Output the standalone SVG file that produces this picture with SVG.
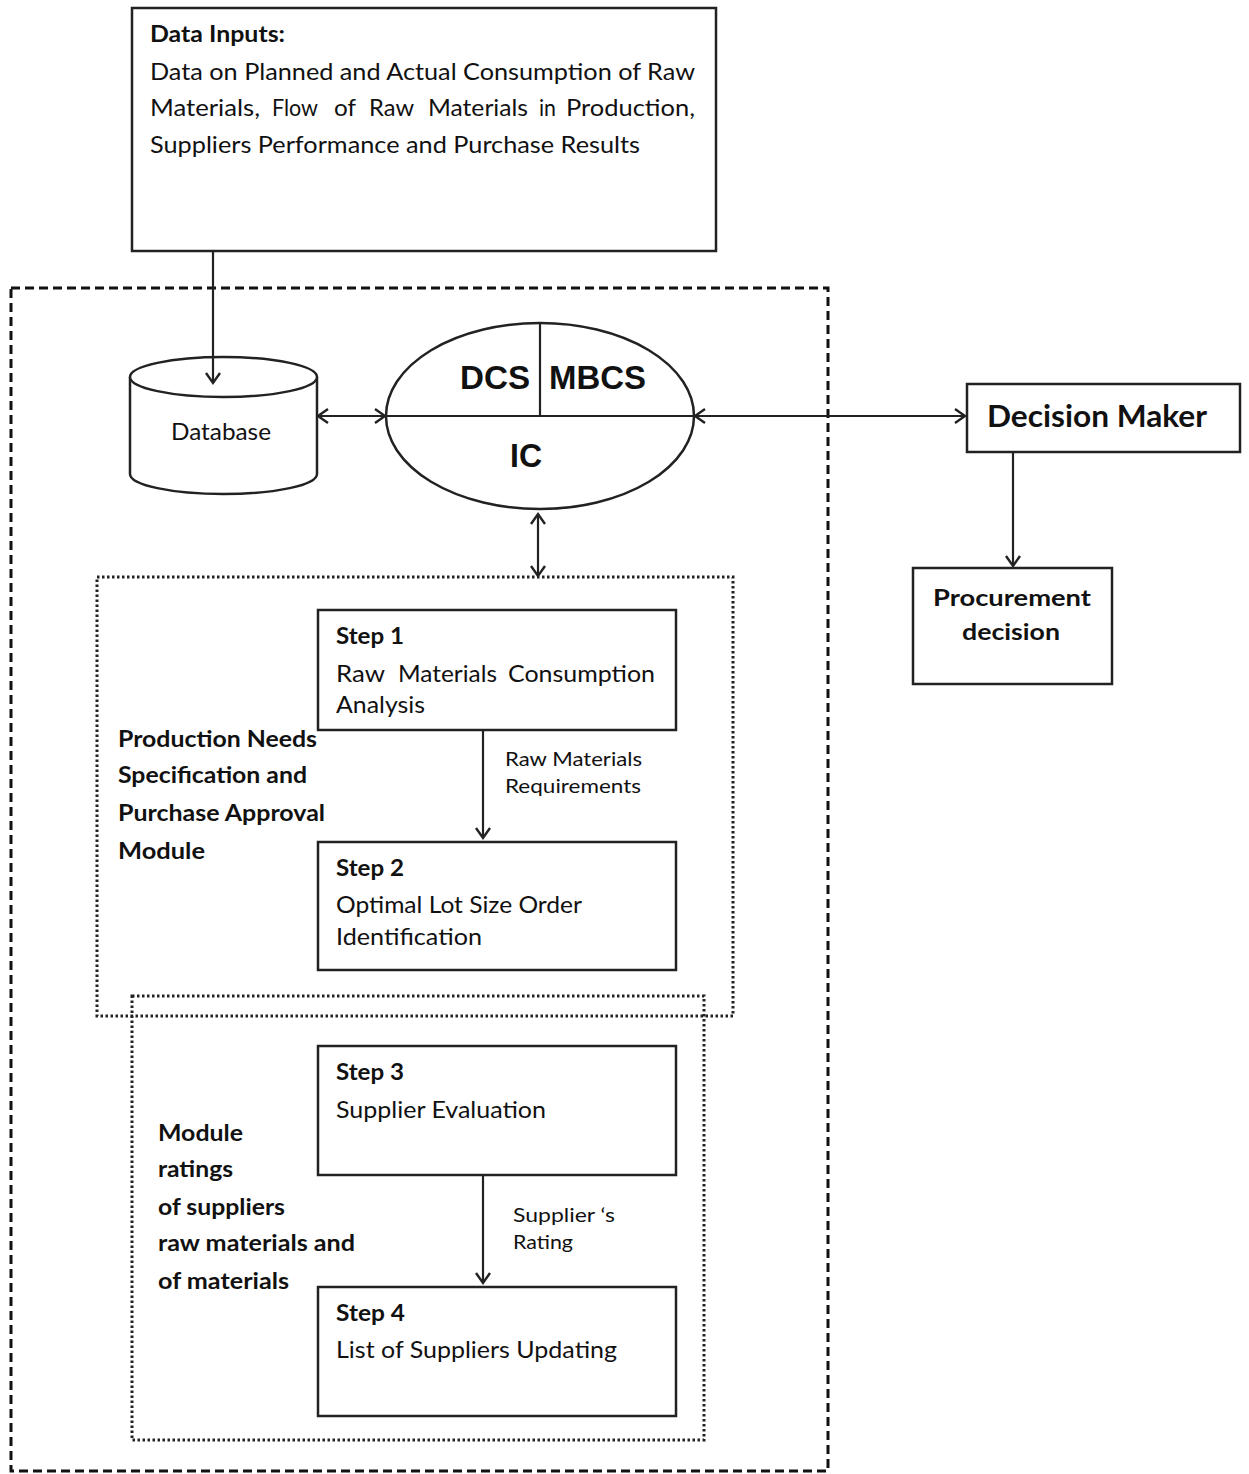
<svg xmlns="http://www.w3.org/2000/svg" width="1249" height="1474" viewBox="0 0 1249 1474">
<defs>
<marker id="arr" markerUnits="userSpaceOnUse" markerWidth="20" markerHeight="20" refX="11" refY="8" orient="auto-start-reverse" viewBox="0 0 20 16">
<path d="M1,1 L11,8 L1,15" fill="none" stroke="#222" stroke-width="2.4"/>
</marker>
</defs>
<style>
.box{fill:#fff;stroke:#222;stroke-width:2.5}
.ln{fill:none;stroke:#222;stroke-width:2.2}
.t{font-family:Lato,"Liberation Sans",sans-serif;fill:#111;font-size:23px}
.s{font-size:20px}
.b{font-weight:bold}
.a{font-family:"Liberation Sans",Arial,sans-serif;font-weight:bold;fill:#111;font-size:33px}
.dash{fill:none;stroke:#111;stroke-width:3;stroke-dasharray:9 5}
.dot{fill:none;stroke:#222;stroke-width:3;stroke-dasharray:2.5 2.5}
</style>
<rect width="1249" height="1474" fill="#fff"/>

<g id="system-boundary"><rect class="dash" x="11" y="288" width="817" height="1183"/></g>
<g id="module1-boundary"><rect class="dot" x="97" y="577" width="636" height="439"/></g>
<g id="module2-boundary"><rect class="dot" x="132" y="996" width="572" height="444"/></g>

<g id="data-inputs">
<rect class="box" x="132" y="8" width="584" height="243"/>
<text class="t b" x="150" y="42" textLength="135" lengthAdjust="spacingAndGlyphs">Data Inputs:</text>
<text class="t" x="150" y="80" textLength="545" lengthAdjust="spacingAndGlyphs">Data on Planned and Actual Consumption of Raw</text>
<text class="t" y="116" lengthAdjust="spacingAndGlyphs"><tspan x="150" textLength="110" lengthAdjust="spacingAndGlyphs">Materials,</tspan><tspan x="272" textLength="46" lengthAdjust="spacingAndGlyphs">Flow</tspan><tspan x="334" textLength="22" lengthAdjust="spacingAndGlyphs">of</tspan><tspan x="369" textLength="45" lengthAdjust="spacingAndGlyphs">Raw</tspan><tspan x="428" textLength="100" lengthAdjust="spacingAndGlyphs">Materials</tspan><tspan x="539" textLength="17" lengthAdjust="spacingAndGlyphs">in</tspan><tspan x="566" textLength="129" lengthAdjust="spacingAndGlyphs">Production,</tspan></text>
<text class="t" x="150" y="153" textLength="490" lengthAdjust="spacingAndGlyphs">Suppliers Performance and Purchase Results</text>
</g>

<g id="database">
<path class="box" d="M130,377 L130,474 A93.5,20 0 0 0 317,474 L317,377"/>
<ellipse class="box" cx="223.5" cy="377" rx="93.5" ry="20"/>
<text class="t" x="171" y="440" textLength="100" lengthAdjust="spacingAndGlyphs">Database</text>
</g>

<g id="controller">
<ellipse class="box" cx="540" cy="416" rx="154" ry="93"/>
<line class="ln" x1="386" y1="416" x2="694" y2="416"/>
<line class="ln" x1="540" y1="323" x2="540" y2="416"/>
<text class="a" x="460" y="389" textLength="70" lengthAdjust="spacingAndGlyphs">DCS</text>
<text class="a" x="549" y="389" textLength="97" lengthAdjust="spacingAndGlyphs">MBCS</text>
<text class="a" x="510" y="467" textLength="32" lengthAdjust="spacingAndGlyphs">IC</text>
</g>

<g id="decision-maker">
<rect class="box" x="967" y="384" width="273" height="68"/>
<text class="t b" x="987" y="427" textLength="220" lengthAdjust="spacingAndGlyphs" style="font-size:30px">Decision Maker</text>
</g>

<g id="procurement-decision">
<rect class="box" x="913" y="568" width="199" height="116"/>
<text class="t b" x="933" y="606" textLength="158" lengthAdjust="spacingAndGlyphs">Procurement</text>
<text class="t b" x="962" y="640" textLength="98" lengthAdjust="spacingAndGlyphs">decision</text>
</g>

<g id="step1">
<rect class="box" x="318" y="610" width="358" height="120"/>
<text class="t b" x="336" y="644" textLength="68" lengthAdjust="spacingAndGlyphs">Step 1</text>
<text class="t" y="682"><tspan x="336" textLength="49" lengthAdjust="spacingAndGlyphs">Raw</tspan><tspan x="398" textLength="99" lengthAdjust="spacingAndGlyphs">Materials</tspan><tspan x="508" textLength="147" lengthAdjust="spacingAndGlyphs">Consumption</tspan></text>
<text class="t" x="336" y="713" textLength="89" lengthAdjust="spacingAndGlyphs">Analysis</text>
</g>

<g id="step2">
<rect class="box" x="318" y="842" width="358" height="128"/>
<text class="t b" x="336" y="876" textLength="68" lengthAdjust="spacingAndGlyphs">Step 2</text>
<text class="t" x="336" y="913" textLength="246" lengthAdjust="spacingAndGlyphs">Optimal Lot Size Order</text>
<text class="t" x="336" y="945" textLength="146" lengthAdjust="spacingAndGlyphs">Identification</text>
</g>

<g id="module1-label">
<text class="t b" x="118" y="747" textLength="199" lengthAdjust="spacingAndGlyphs">Production Needs</text>
<text class="t b" x="118" y="783" textLength="189" lengthAdjust="spacingAndGlyphs">Specification and</text>
<text class="t b" x="118" y="821" textLength="207" lengthAdjust="spacingAndGlyphs">Purchase Approval</text>
<text class="t b" x="118" y="859" textLength="87" lengthAdjust="spacingAndGlyphs">Module</text>
</g>

<g id="step3">
<rect class="box" x="318" y="1046" width="358" height="129"/>
<text class="t b" x="336" y="1080" textLength="68" lengthAdjust="spacingAndGlyphs">Step 3</text>
<text class="t" x="336" y="1118" textLength="210" lengthAdjust="spacingAndGlyphs">Supplier Evaluation</text>
</g>

<g id="step4">
<rect class="box" x="318" y="1287" width="358" height="129"/>
<text class="t b" x="336" y="1321" textLength="69" lengthAdjust="spacingAndGlyphs">Step 4</text>
<text class="t" x="336" y="1358" textLength="281" lengthAdjust="spacingAndGlyphs">List of Suppliers Updating</text>
</g>

<g id="module2-label">
<text class="t b" x="158" y="1141" textLength="85" lengthAdjust="spacingAndGlyphs">Module</text>
<text class="t b" x="158" y="1177" textLength="75" lengthAdjust="spacingAndGlyphs">ratings</text>
<text class="t b" x="158" y="1215" textLength="127" lengthAdjust="spacingAndGlyphs">of suppliers</text>
<text class="t b" x="158" y="1251" textLength="197" lengthAdjust="spacingAndGlyphs">raw materials and</text>
<text class="t b" x="158" y="1289" textLength="131" lengthAdjust="spacingAndGlyphs">of materials</text>
</g>

<g id="connectors">
<line class="ln" x1="213" y1="251" x2="213" y2="383" marker-end="url(#arr)"/>
<line class="ln" x1="318" y1="416" x2="385" y2="416" marker-start="url(#arr)" marker-end="url(#arr)"/>
<line class="ln" x1="695" y1="416" x2="965" y2="416" marker-start="url(#arr)" marker-end="url(#arr)"/>
<line class="ln" x1="1013" y1="452" x2="1013" y2="566" marker-end="url(#arr)"/>
<line class="ln" x1="538" y1="514" x2="538" y2="576" marker-start="url(#arr)" marker-end="url(#arr)"/>
<line class="ln" x1="483" y1="730" x2="483" y2="838" marker-end="url(#arr)"/>
<text class="t s" x="505" y="766" textLength="137" lengthAdjust="spacingAndGlyphs">Raw Materials</text>
<text class="t s" x="505" y="793" textLength="136" lengthAdjust="spacingAndGlyphs">Requirements</text>
<line class="ln" x1="483" y1="1175" x2="483" y2="1283" marker-end="url(#arr)"/>
<text class="t s" x="513" y="1222" textLength="102" lengthAdjust="spacingAndGlyphs">Supplier ‘s</text>
<text class="t s" x="513" y="1249" textLength="60" lengthAdjust="spacingAndGlyphs">Rating</text>
</g>
</svg>
